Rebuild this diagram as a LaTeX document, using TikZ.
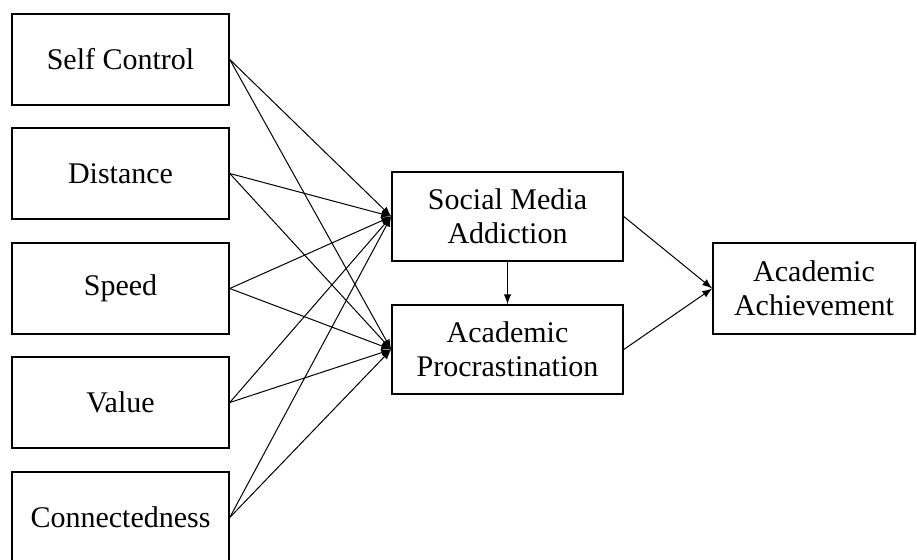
\documentclass[tikz,border=0pt]{standalone}
\usepackage{fontspec}
\setmainfont{Liberation Serif}
\usepackage{tikz}
\tikzset{
  varbox/.style={draw, line width=0.6pt, inner sep=0pt, align=center,
    font=\fontsize{12}{13.5}\selectfont},
  leftbox/.style={varbox, minimum width=86.8pt, minimum height=36.4pt},
  midbox/.style={varbox, minimum width=92.4pt, minimum height=35.6pt},
  link/.style={->, >=latex, line width=0.4pt},
}
\begin{document}
\begin{tikzpicture}[x=0.4pt, y=-0.4pt]
		%%%%% START %%%%%
		\useasboundingbox (0, 0) rectangle (917, 559);
		
		\node[leftbox] (self) at (120.5, 59.5) {Self Control};
		\node[leftbox] (dist) at (120.5, 173.5) {Distance};
		\node[leftbox] (speed) at (120.5, 288.5) {Speed};
		\node[leftbox] (value) at (120.5, 402.5) {Value};
		\node[leftbox] (conn) at (120.5, 517.5) {Connectedness};
		
		\node[midbox] (sma) at (507.5, 216.5) {Social Media\\Addiction};
		\node[midbox] (proc) at (507.5, 349.5) {Academic\\Procrastination};
		\node[varbox, minimum width=80.8pt, minimum height=36.4pt] (ach) at (814, 288.5) {Academic\\Achievement};
		
		\foreach \src in {self, dist, speed, value, conn} {
			\draw[link] (\src.east) -- (sma.west);
			\draw[link] (\src.east) -- (proc.west);
		}
		
		\draw[link] (sma.south) -- (proc.north);
		\draw[link] (sma.east) -- (ach.west);
		\draw[link] (proc.east) -- (ach.west);
		
		%%%%% END %%%%%
\end{tikzpicture}
\end{document}
